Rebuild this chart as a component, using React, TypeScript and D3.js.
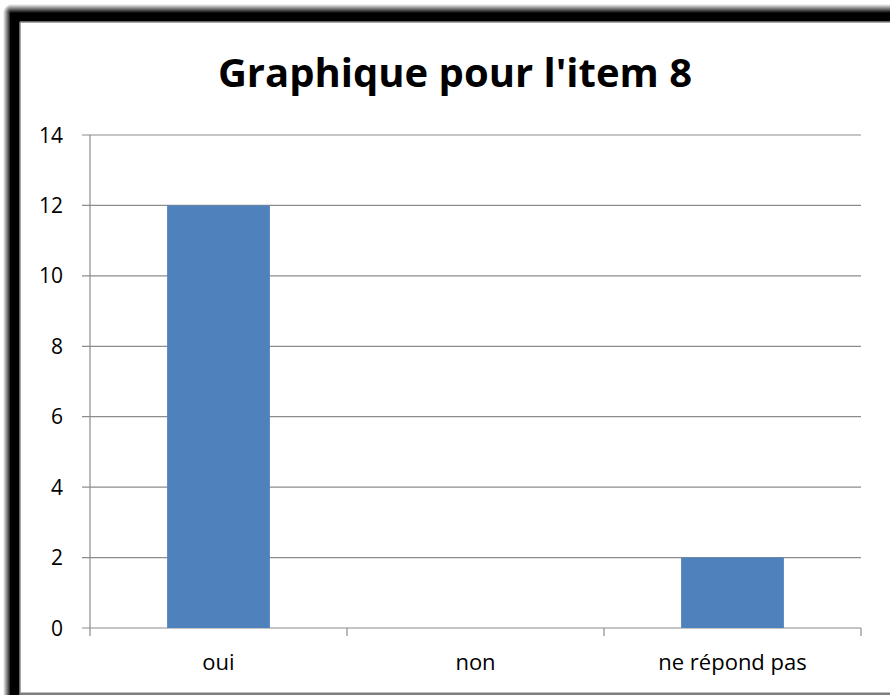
import React, { useEffect, useRef } from "react";
import * as d3 from "d3";

const categories = ["oui", "non", "ne répond pas"];
const values = [12, 0, 2];
const yTicks = [0, 2, 4, 6, 8, 10, 12, 14];
const title = "Graphique pour l'item 8";

export default function App() {
  const ref = useRef<SVGSVGElement>(null);
  useEffect(() => {
    document.body.style.margin = "0";
    document.body.style.overflow = "hidden";
    const svg = d3.select(ref.current);
    svg.selectAll("*").remove();
    const W = 890, H = 695;
    const defs = svg.append("defs");
    const gl = defs.append("linearGradient").attr("id", "gl").attr("x1", 0).attr("x2", 1).attr("y1", 0).attr("y2", 0);
    gl.append("stop").attr("offset", 0).attr("stop-color", "#000").attr("stop-opacity", 0);
    gl.append("stop").attr("offset", 1).attr("stop-color", "#000").attr("stop-opacity", 1);
    const gt = defs.append("linearGradient").attr("id", "gt").attr("x1", 0).attr("x2", 0).attr("y1", 0).attr("y2", 1);
    gt.append("stop").attr("offset", 0).attr("stop-color", "#000").attr("stop-opacity", 0);
    gt.append("stop").attr("offset", 1).attr("stop-color", "#000").attr("stop-opacity", 1);
    const gc = defs.append("radialGradient").attr("id", "gc").attr("cx", 1).attr("cy", 1).attr("r", 1);
    gc.append("stop").attr("offset", 0).attr("stop-color", "#000").attr("stop-opacity", 1);
    gc.append("stop").attr("offset", 1).attr("stop-color", "#000").attr("stop-opacity", 0);

    svg.append("rect").attr("width", W).attr("height", H).attr("fill", "#fff");
    // shadow edges
    svg.append("rect").attr("x", 3).attr("y", 13).attr("width", 8).attr("height", H - 13).attr("fill", "url(#gl)");
    svg.append("rect").attr("x", 11).attr("y", 4).attr("width", W - 11).attr("height", 9).attr("fill", "url(#gt)");
    svg.append("rect").attr("x", 3).attr("y", 4).attr("width", 8).attr("height", 9).attr("fill", "url(#gc)");
    svg.append("rect").attr("x", 10).attr("y", 13).attr("width", 10).attr("height", H - 13).attr("fill", "#000");
    svg.append("rect").attr("x", 10).attr("y", 13).attr("width", W - 10).attr("height", 9).attr("fill", "#000");
    svg.append("line").attr("x1", 20).attr("x2", 20).attr("y1", 22).attr("y2", H).attr("stroke", "#8a8a8a").attr("stroke-width", 1.5);
    svg.append("line").attr("x1", 20).attr("x2", W).attr("y1", 22).attr("y2", 22).attr("stroke", "#8a8a8a").attr("stroke-width", 1.5);
    svg.append("rect").attr("x", 20).attr("y", 692.5).attr("width", W - 20).attr("height", 3).attr("fill", "#7f7f7f");

    const left = 90, right = 861, top = 135, bottom = 628;
    const xb = d3.scaleBand().domain(categories).range([left, right]);
    const y = d3.scaleLinear().domain([0, 14]).range([bottom, top]);
    const barFrac = 0.4;

    const g = svg.append("g");
    const grid = "#8c8c8c";
    yTicks.forEach(t => {
      g.append("line").attr("x1", left - 8).attr("x2", right).attr("y1", y(t)).attr("y2", y(t)).attr("stroke", grid).attr("stroke-width", 1.2);
      g.append("text").attr("x", 63).attr("y", y(t)).attr("dy", "0.36em").attr("text-anchor", "end")
        .attr("font-family", "Open Sans, sans-serif").attr("font-size", 21).attr("fill", "#000").text(String(t));
    });
    g.append("line").attr("x1", left).attr("x2", left).attr("y1", top).attr("y2", bottom + 8).attr("stroke", grid).attr("stroke-width", 1.2);
    categories.forEach(c => {
      const xe = (xb(c) as number) + xb.bandwidth();
      g.append("line").attr("x1", xe).attr("x2", xe).attr("y1", bottom).attr("y2", bottom + 8).attr("stroke", grid).attr("stroke-width", 1.2);
    });

    g.selectAll("rect.bar").data(values).enter().append("rect").attr("class", "bar")
      .attr("x", (d, i) => (xb(categories[i]) as number) + xb.bandwidth() * (1 - barFrac) / 2)
      .attr("width", xb.bandwidth() * barFrac)
      .attr("y", d => y(d))
      .attr("height", d => bottom - y(d))
      .attr("fill", "#4f81bd");

    categories.forEach(c => {
      g.append("text").attr("x", (xb(c) as number) + xb.bandwidth() / 2).attr("y", 670).attr("text-anchor", "middle")
        .attr("font-family", "Open Sans, sans-serif").attr("font-size", 22).attr("fill", "#000").text(c);
    });

    svg.append("text").attr("x", 455).attr("y", 87).attr("text-anchor", "middle")
      .attr("font-family", "Open Sans, sans-serif").attr("font-weight", "bold").attr("font-size", 40).attr("fill", "#000").text(title);
  }, []);
  return <svg ref={ref} width={890} height={695} style={{ display: "block" }} />;
}
